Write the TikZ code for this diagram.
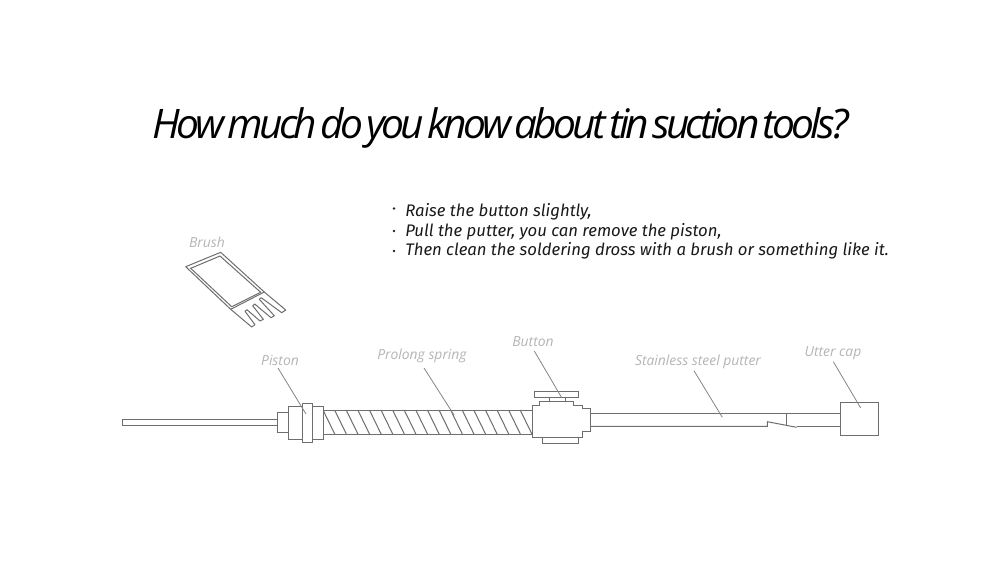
\documentclass[tikz,border=0pt]{standalone}
\usepackage{fontspec}
\setmainfont{Open Sans}
\newfontfamily\titlefont[LetterSpace=-9,WordSpace=0.45]{Open Sans}
\newfontfamily\bodyfont{Fira Sans}
\newfontfamily\labelfont{Open Sans}
\definecolor{lab}{HTML}{B4B4B4}
\definecolor{ln}{HTML}{6E6E6E}
\tikzset{
  part/.style={draw=ln,line width=0.75pt,fill=white,line join=miter},
  wire/.style={draw=ln,line width=0.75pt},
  leader/.style={draw=ln!85,line width=0.6pt},
  lbl/.style={text=lab,font=\labelfont\itshape\fontsize{10.4}{12}\selectfont,inner sep=0pt,anchor=center},
  bodyline/.style={font=\bodyfont\itshape\fontsize{12.55}{14}\selectfont,inner sep=0pt,anchor=base west,text=black!90},
  dotn/.style={circle,fill=black!85,inner sep=0pt,minimum size=2.2pt}
}
\begin{document}
\begin{tikzpicture}[x=0.75pt,y=-0.75pt]
\useasboundingbox (0,0) rectangle (1000,587);
\node[inner sep=0pt,anchor=base] (title) at (500.5,138) {\titlefont\itshape\fontsize{30.5}{36}\selectfont How much do you know about tin suction tools?};
\node[bodyline] (l1) at (405,216) {Raise the button slightly,};
\node[bodyline] (l2) at (405,236) {Pull the putter, you can remove the piston,};
\node[bodyline] (l3) at (405,255) {Then clean the soldering dross with a brush or something like it.};
\node[dotn] (d1) at (394,208.5) {};
\node[dotn] (d2) at (394,231) {};
\node[dotn] (d3) at (394,251) {};
% brush
\draw[wire,line join=round] (185.7,266.7) -- (220.7,252.3) -- (264.3,292) -- (230.7,309.3) -- cycle;
\draw[wire] (190.7,268.3) -- (220,256) -- (260.7,292.3) -- (231.7,306.7) -- cycle;
\draw[wire,line join=round,line cap=round] (230.7,309.3) -- (251.7,327) -- (255,324.7) -- (245,311.3) -- (247,309.7) -- (260,321) -- (263.3,319.3) -- (252.7,305.7) -- (254.7,304) -- (271,317.7) -- (274.3,315.7) -- (259.3,299.3) -- (261.3,297.7) -- (281.7,312.7) -- (285.7,310) -- (264.3,292);
% rod and piston
\draw[part] (122,419.5) rectangle (277,425.7);
\draw[part] (323,410) rectangle (532,434.6);
\foreach \k in {0,...,17} \draw[wire] ({323+\k*11.6},410) -- ({335+\k*11.6},434.6);
\draw[part] (277,412) rectangle (288,432);
\draw[part] (288,406) rectangle (302,439);
\draw[part] (312,406) rectangle (323,439);
\draw[part] (302,403) rectangle (312,442);
% button
\draw[part] (534.3,391.3) rectangle (578.7,397.7);
\draw[part] (549.3,397.7) rectangle (565.3,401);
\draw[part] (542,437) rectangle (578.7,443.3);
\draw[part] (532,405.7) -- (539.3,405.7) -- (539.3,401) -- (573.7,401) -- (573.7,405) -- (582.7,405) -- (582.7,408.3) -- (590,408.3) -- (590,431.7) -- (582,431.7) -- (582,437.3) -- (532,437.3) -- cycle;
% putter
\draw[wire] (590,413.3) -- (840,413.3);
\draw[wire] (590,426.3) -- (767.3,426.3) -- (767.3,421.7) -- (796.7,427.3);
\draw[wire] (786.3,413.3) -- (786.3,425.5);
\draw[wire] (796.7,426.3) -- (840,426.3);
\draw[part] (840,402.3) rectangle (878.7,435.3);
% labels
\node[lbl] (brush) at (207,242) {Brush};
\node[lbl] (piston) at (280,360) {Piston};
\node[lbl] (spring) at (422,356) {Prolong spring};
\node[lbl] (button) at (533,341.5) {Button};
\node[lbl] (putter) at (698,362) {Stainless steel putter};
\node[lbl] (cap) at (833,353) {Utter cap};
\coordinate (pa) at (306,414);
\coordinate (sa) at (454,415);
\coordinate (ba) at (561.7,397.7);
\coordinate (ta) at (722.3,417.3);
\coordinate (ca) at (860.7,408);
\draw[leader] (278,368) -- (pa);
\draw[leader] (424,368) -- (sa);
\draw[leader] (534.3,351) -- (ba);
\draw[leader] (694,370.7) -- (ta);
\draw[leader] (833.3,361.7) -- (ca);
\end{tikzpicture}
\end{document}
